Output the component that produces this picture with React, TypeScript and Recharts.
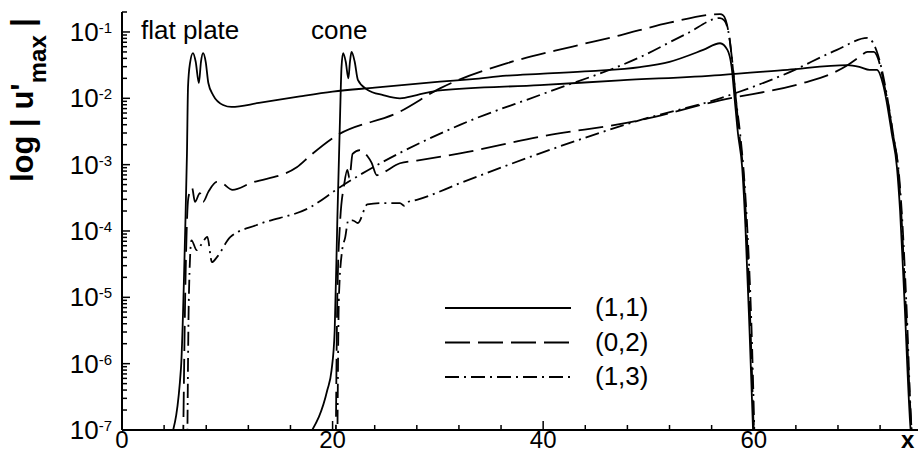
import React from "react";
import { LineChart, Line, XAxis, YAxis, Legend } from "recharts";

// flat plate, mode (1,1)
const plateX11 = [4.7, 5.6, 6.0, 6.17, 6.27, 6.46, 6.74, 7.0, 7.3, 7.5, 7.7, 7.95, 8.2, 8.65, 9.6, 10.4, 13.0, 16.9, 20.0, 24.0, 30.2, 33.3, 36.5, 39.7, 44.5, 49.2, 52.0, 55.2, 56.8, 57.5, 57.9, 58.2, 58.5, 58.9, 59.2, 59.6, 60.0];
const plateU11 = [8e-8, 8.5e-7, 1.0e-4, 1.48e-3, 1.48e-2, 3.39e-2, 4.79e-2, 3.55e-2, 1.7e-2, 3.55e-2, 4.79e-2, 3.55e-2, 1.7e-2, 1.12e-2, 7.94e-3, 7.41e-3, 8.51e-3, 1.07e-2, 1.26e-2, 1.45e-2, 1.78e-2, 1.95e-2, 2.19e-2, 2.34e-2, 2.57e-2, 2.95e-2, 3.55e-2, 5.37e-2, 6.76e-2, 5.37e-2, 2.95e-2, 9.33e-3, 2.95e-3, 9.12e-4, 1.26e-4, 3.16e-6, 5e-8];

// flat plate, mode (0,2)
const plateX02 = [5.8, 6.0, 6.3, 6.65, 6.93, 7.4, 7.7, 8.2, 9.0, 9.5, 10.5, 12.2, 16.6, 17.9, 20.0, 26.4, 30.2, 36.6, 42.8, 47.3, 52.0, 56.8, 57.1, 57.6, 58.0, 58.3, 58.6, 59.0, 59.3, 59.7, 60.05];
const plateU02 = [5e-8, 1e-5, 3.16e-4, 4.47e-4, 2.75e-4, 3.72e-4, 2.75e-4, 3.89e-4, 5.5e-4, 5.25e-4, 4.17e-4, 5.25e-4, 9.12e-4, 1.38e-3, 2.51e-3, 6.31e-3, 1.41e-2, 3.39e-2, 6.03e-2, 8.91e-2, 1.38e-1, 1.86e-1, 1.78e-1, 1.0e-1, 3.16e-2, 1.0e-2, 3.16e-3, 7.94e-4, 1.26e-4, 3.16e-6, 5e-8];

// flat plate, mode (1,3)
const plateX13 = [6.2, 6.35, 6.6, 7.1, 7.6, 8.1, 8.55, 9.0, 10.3, 12.8, 17.9, 20.7, 32.1, 40.0, 49.2, 53.7, 56.8, 57.2, 57.7, 58.0, 58.3, 58.7, 59.1, 59.4, 59.8, 60.1];
const plateU13 = [5e-8, 1e-5, 7.24e-5, 5.13e-5, 6.5e-5, 8.13e-5, 3.39e-5, 4.0e-5, 8.13e-5, 1.23e-4, 2.29e-4, 4.57e-4, 3.98e-3, 1.17e-2, 4.17e-2, 9.55e-2, 1.62e-1, 1.5e-1, 8.0e-2, 3.0e-2, 1.0e-2, 3.0e-3, 6.0e-4, 1.0e-4, 3.0e-6, 5e-8];

// cone, mode (1,1)
const coneX11 = [17.9, 19.5, 19.9, 20.2, 20.45, 20.7, 20.85, 21.0, 21.25, 21.5, 21.65, 21.8, 22.1, 22.4, 23.3, 24.8, 26.4, 28.0, 30.2, 39.7, 47.3, 56.8, 63.2, 68.9, 70.1, 71.0, 71.7, 72.3, 72.6, 73.1, 73.6, 73.9, 74.3, 74.9, 75.1];
const coneU11 = [9e-8, 4e-7, 7.9e-7, 3.16e-6, 1.45e-4, 4.68e-3, 3.0e-2, 4.79e-2, 3.55e-2, 2.0e-2, 3.55e-2, 5.0e-2, 3.55e-2, 1.9e-2, 1.35e-2, 1.12e-2, 1.0e-2, 1.12e-2, 1.32e-2, 1.58e-2, 1.86e-2, 2.24e-2, 2.69e-2, 3.16e-2, 2.95e-2, 2.69e-2, 2.69e-2, 1.58e-2, 9.33e-3, 3.02e-3, 9.12e-4, 2.0e-4, 1.0e-5, 1e-7, 5e-8];

// cone, mode (0,2)
const coneX02 = [20.3, 20.45, 20.7, 21.1, 21.4, 21.6, 21.9, 22.6, 23.3, 23.7, 24.2, 24.8, 26.4, 28.0, 32.1, 39.7, 49.2, 56.8, 64.7, 67.5, 68.9, 70.1, 70.8, 71.4, 71.8, 72.4, 72.7, 73.2, 73.7, 74.0, 74.4, 75.0, 75.2];
const coneU02 = [5e-8, 1e-5, 1.26e-4, 5e-4, 8.32e-4, 6.3e-4, 1.45e-3, 1.66e-3, 1.35e-3, 1.07e-3, 6.92e-4, 7.59e-4, 1.05e-3, 1.15e-3, 1.48e-3, 2.63e-3, 4.68e-3, 9.33e-3, 1.7e-2, 2.4e-2, 3.16e-2, 4.27e-2, 5.01e-2, 5.0e-2, 4.0e-2, 1.58e-2, 9.33e-3, 3.02e-3, 9.12e-4, 2.0e-4, 1.0e-5, 1e-7, 5e-8];

// cone, mode (1,3)
const coneX13 = [20.45, 20.6, 20.9, 21.2, 21.5, 21.9, 22.4, 23.3, 24.8, 26.4, 26.8, 27.2, 28.0, 32.1, 39.7, 49.2, 56.8, 63.2, 67.9, 70.8, 71.3, 71.8, 72.4, 72.8, 73.3, 73.8, 74.1, 74.5, 75.0, 75.3];
const coneU13 = [5e-8, 1e-5, 5e-5, 8e-5, 1.45e-4, 1.45e-4, 1.32e-4, 2.51e-4, 2.63e-4, 2.63e-4, 2.4e-4, 2.75e-4, 2.95e-4, 5.25e-4, 1.48e-3, 4.68e-3, 1.0e-2, 2.4e-2, 5.37e-2, 8.13e-2, 7.0e-2, 4.5e-2, 1.8e-2, 8.0e-3, 2.5e-3, 7.0e-4, 1.5e-4, 8.0e-6, 1e-7, 5e-8];

const modeNames = ["(1,1)", "(0,2)", "(1,3)"];
const xMajorTicks = [0, 20, 40, 60];
const xMinorStep = 4;
const yMajorTicks = [1e-7, 1e-6, 1e-5, 1e-4, 1e-3, 1e-2, 1e-1];
const yMinorFactors = [2, 3, 4, 5, 6, 7, 8, 9];

const X_MAX = 75.6;
const Y_MIN = 1e-7;
const Y_MAX = 0.2;

const DASHES = [undefined, "25 8", "14 5 2 5"];
const FONT = "'Liberation Sans', Arial, Helvetica, sans-serif";

const pts = (xs: number[], us: number[]) => xs.map((x, i) => ({ x, u: us[i] }));

const series = [
  { key: "p11", data: pts(plateX11, plateU11), mode: 0, legend: true },
  { key: "p02", data: pts(plateX02, plateU02), mode: 1, legend: true },
  { key: "p13", data: pts(plateX13, plateU13), mode: 2, legend: true },
  { key: "c11", data: pts(coneX11, coneU11), mode: 0, legend: false },
  { key: "c02", data: pts(coneX02, coneU02), mode: 1, legend: false },
  { key: "c13", data: pts(coneX13, coneU13), mode: 2, legend: false },
];

const xTicks: number[] = [];
for (let v = 0; v <= X_MAX; v += xMinorStep) xTicks.push(v);

const yTicks: number[] = [...yMajorTicks];
yMajorTicks.forEach((m) =>
  yMinorFactors.forEach((k) => {
    const v = +(k * m).toPrecision(3);
    if (v <= Y_MAX + 1e-12) yTicks.push(v);
  })
);

const YTick = (props: any) => {
  const { x, y, payload } = props;
  const lg = Math.log10(payload.value);
  const exp = Math.round(lg);
  const major = Math.abs(lg - exp) < 1e-6;
  return (
    <g>
      <line x1={x} x2={x + (major ? 8 : 5)} y1={y} y2={y} stroke="#000" strokeWidth={1.5} />
      {major && (
        <text x={x - 10} y={y + 9} textAnchor="end" fontSize={26} fill="#000" fontFamily={FONT}>
          10
          <tspan dy={-8} fontSize={15}>
            {String(exp)}
          </tspan>
        </text>
      )}
    </g>
  );
};

const XTick = (props: any) => {
  const { x, y, payload } = props;
  const major = xMajorTicks.includes(payload.value);
  return (
    <g>
      <line x1={x} x2={x} y1={y} y2={y - (major ? 9 : 5)} stroke="#000" strokeWidth={1.5} />
      {major && (
        <text x={x} y={y + 18} textAnchor="middle" fontSize={24} fill="#000" fontFamily={FONT}>
          {payload.value}
        </text>
      )}
    </g>
  );
};

const LegendBox = (props: any) => {
  const all = (props.payload || []).filter((it: any) => it.type !== "none");
  const items = modeNames
    .map((n) => all.find((it: any) => it.value === n))
    .filter(Boolean);
  return (
    <svg width={260} height={110} style={{ display: "block", overflow: "visible" }}>
      {items.map((it: any, i: number) => {
        const y = 18 + i * 34.5;
        return (
          <g key={i}>
            <line x1={5} x2={131} y1={y} y2={y} stroke="#000" strokeWidth={1.8} strokeDasharray={it.payload?.strokeDasharray} />
            <text x={155} y={y + 8} fontSize={26} fill="#000" fontFamily={FONT}>
              {it.value}
            </text>
          </g>
        );
      })}
    </svg>
  );
};

export default function App() {
  return (
    <div style={{ position: "absolute", left: 0, top: 0, width: 918, height: 455, background: "#fff", fontFamily: FONT }}>
      <LineChart width={918} height={455} margin={{ top: 12, right: 0, bottom: 0, left: 0 }}>
        <XAxis
          type="number"
          dataKey="x"
          domain={[0, X_MAX]}
          allowDataOverflow
          ticks={xTicks}
          interval={0}
          tick={<XTick />}
          tickLine={false}
          tickSize={0}
          tickMargin={0}
          height={25}
          axisLine={{ stroke: "#000", strokeWidth: 2 }}
        />
        <YAxis
          type="number"
          scale="log"
          domain={[Y_MIN, Y_MAX]}
          allowDataOverflow
          ticks={yTicks}
          interval={0}
          tick={<YTick />}
          tickLine={false}
          tickSize={0}
          tickMargin={0}
          width={122}
          axisLine={{ stroke: "#000", strokeWidth: 2 }}
        />
        <Legend
          layout="vertical"
          align="center"
          verticalAlign="middle"
          content={<LegendBox />}
          wrapperStyle={{ position: "absolute", left: 440, top: 290, width: 260, height: 110 }}
        />
        {series.map((s) => (
          <Line
            key={s.key}
            data={s.data}
            dataKey="u"
            name={modeNames[s.mode]}
            type="monotone"
            stroke="#000"
            strokeWidth={1.8}
            strokeDasharray={DASHES[s.mode]}
            dot={false}
            activeDot={false}
            legendType={s.legend ? "line" : "none"}
            isAnimationActive={false}
          />
        ))}
      </LineChart>
      <svg width={918} height={455} style={{ position: "absolute", left: 0, top: 0, pointerEvents: "none" }}>
        <text transform="translate(33,182) rotate(-90)" fontSize={31} fontWeight="bold" fill="#000" fontFamily={FONT}>
          log | u'
          <tspan dy={13} fontSize={24}>
            max
          </tspan>
          <tspan dy={-13}> |</tspan>
        </text>
        <text x={141} y={39} fontSize={26} fill="#000" fontFamily={FONT}>
          flat plate
        </text>
        <text x={311} y={39} fontSize={26} fill="#000" fontFamily={FONT}>
          cone
        </text>
        <text x={901} y={448} fontSize={24} fontWeight="bold" fill="#000" fontFamily={FONT}>
          x
        </text>
      </svg>
    </div>
  );
}
